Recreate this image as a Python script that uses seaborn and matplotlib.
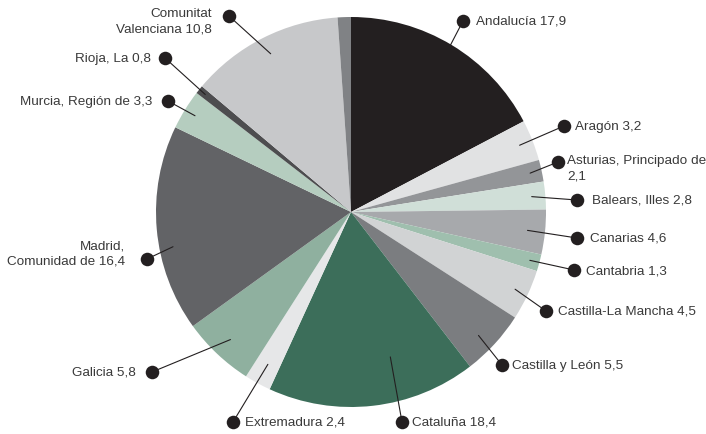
import numpy as np
import matplotlib.pyplot as plt
import seaborn as sns

# datos: porcentaje por comunidad (texto de la etiqueta)
regions = ["Andalucía", "Aragón", "Asturias, Principado de", "Balears, Illes",
           "Canarias", "Cantabria", "Castilla-La Mancha", "Castilla y León",
           "Cataluña", "Extremadura", "Galicia", "Madrid, Comunidad de",
           "Murcia, Región de", "Rioja, La", "Comunitat Valenciana", ""]
label_values = [17.9, 3.2, 2.1, 2.8, 4.6, 1.3, 4.5, 5.5, 18.4, 2.4, 5.8, 16.4,
                3.3, 0.8, 10.8, None]
# tamaño de cada sector tal como aparece dibujado (estimado del gráfico)
wedge_share = [17.3, 3.4, 1.8, 2.3, 3.7, 1.4, 4.2, 5.45, 17.3, 2.2, 6.0, 17.1,
               3.3, 0.7, 12.75, 1.1]
labels = ["Andalucía 17,9", "Aragón 3,2", "Asturias, Principado de\n2,1",
          "Balears, Illes 2,8", "Canarias 4,6", "Cantabria 1,3",
          "Castilla-La Mancha 4,5", "Castilla y León 5,5", "Cataluña 18,4",
          "Extremadura 2,4", "Galicia 5,8", "Madrid,\nComunidad de 16,4",
          "Murcia, Región de 3,3", "Rioja, La 0,8", "Comunitat\nValenciana 10,8", ""]
colors = ["#231f20", "#e1e2e3", "#939598", "#d0dfd8", "#a7a9ac", "#9fbfae",
          "#d1d3d4", "#7b7d80", "#3c6e5a", "#e6e7e8", "#8fb09f", "#626366",
          "#b5cdbf", "#4d4d4f", "#c7c8ca", "#808285"]

# disposicion de etiquetas: punto (x, y en pixeles desde arriba), lado,
# radio relativo y giro (grados) del inicio de la linea guia, separacion del texto
dot_pos = [(463, 22), (564, 127), (558, 163), (577, 201), (577, 239), (574, 271),
           (546, 312), (502, 366), (402, 423), (233, 423), (152, 373), (147, 260),
           (168, 102), (165, 59), (229, 17), None]
side = ["r", "r", "r", "r", "r", "r", "r", "r", "r", "r", "l", "l", "l", "l", "l", None]
rfrac = [0.9, 0.93, 0.94, 0.93, 0.91, 0.95, 0.93, 0.91, 0.77, 0.89, 0.9, 0.93,
         0.94, 0.96, 0.91, None]
aoff = [0, 0, 0, 0, 0, 0, 0, -1.5, 8.7, 0, 0, 6, 0, 0, 0, 0]
gap = [13, 11, 9, 15, 13, 12, 12, 10, 10, 12, 16, 22, 16, 14, 17, 0]

W, H = 706, 435
cx, cy, R = 351, 213, 195

sns.set_style("white")
plt.rcParams['font.family'] = ['Liberation Sans', 'DejaVu Sans']

fig = plt.figure(figsize=(W / 100, H / 100), dpi=100)
ax = fig.add_axes([0, 0, 1, 1])
wedges, _ = ax.pie(wedge_share, colors=colors, startangle=90, counterclock=False,
                   center=(cx, H - cy), radius=R,
                   wedgeprops=dict(linewidth=0))
ax.set_xlim(0, W)
ax.set_ylim(0, H)
ax.set_aspect("equal")
ax.axis("off")

txt_color = "#3a3a3a"
fs = 9.7
for w, lab, pos, sd, rf, ao, g in zip(wedges, labels, dot_pos, side, rfrac, aoff, gap):
    if pos is None:
        continue
    ang = np.deg2rad((w.theta1 + w.theta2) / 2 + ao)
    sx = cx + rf * R * np.cos(ang)
    sy = (H - cy) + rf * R * np.sin(ang)
    dx, dy = pos[0], H - pos[1]
    ax.plot([sx, dx], [sy, dy], color="#231f20", lw=0.8, zorder=3)
    ax.scatter([dx], [dy], s=95, color="#231f20", zorder=4, linewidths=0)
    if "\n" in lab and sd == "r":
        ax.text(dx + g, dy + 8, lab, ha="left", va="top", fontsize=fs,
                color=txt_color, linespacing=1.4)
    elif "\n" in lab and lab.startswith("Madrid"):
        ax.text(dx - g, dy - 8, lab, ha="right", va="bottom", fontsize=fs,
                color=txt_color, linespacing=1.4, multialignment="right")
    elif "\n" in lab:
        ax.text(dx - g, dy + 9, lab, ha="right", va="top", fontsize=fs,
                color=txt_color, linespacing=1.35, multialignment="right")
    elif sd == "r":
        ax.text(dx + g, dy, lab, ha="left", va="center", fontsize=fs, color=txt_color)
    else:
        ax.text(dx - g, dy, lab, ha="right", va="center", fontsize=fs, color=txt_color)

fig.savefig("out.png", dpi=100, facecolor="white")
